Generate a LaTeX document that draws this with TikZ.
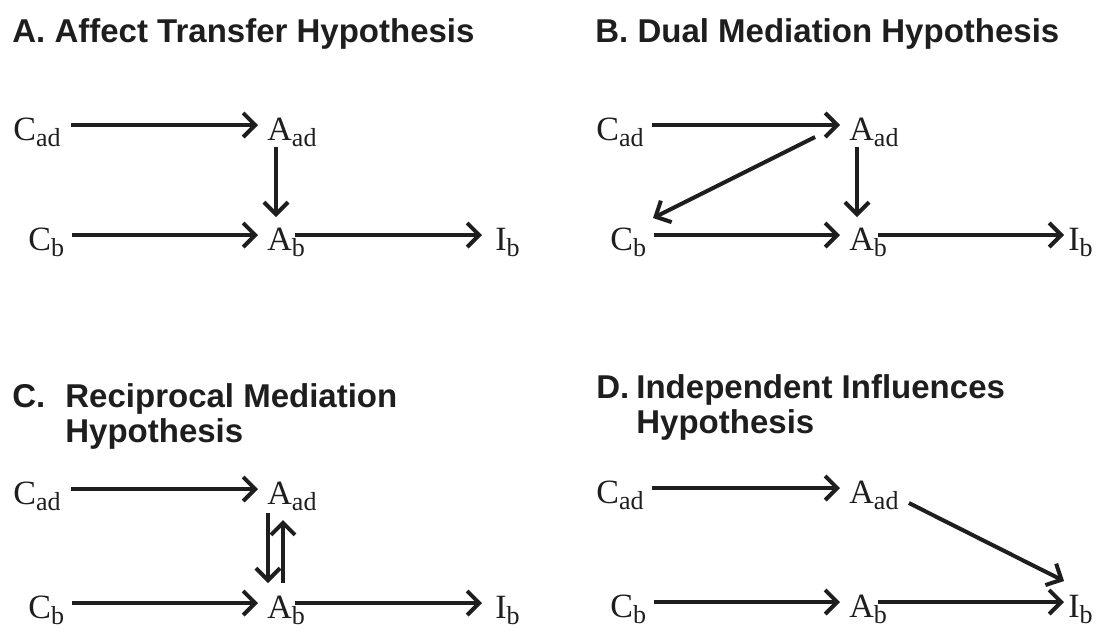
\documentclass[tikz,border=0pt]{standalone}
\usepackage{fontspec}
\setmainfont{Liberation Serif}
\newfontfamily\headfont{Liberation Sans}
\usetikzlibrary{arrows.meta}
\definecolor{ink}{RGB}{30,30,30}
\newcommand{\lsub}[1]{\raisebox{-3pt}{\fontsize{13}{13}\selectfont #1}}

\begin{document}
\begin{tikzpicture}[
    x=0.5pt, y=-0.5pt,
    lbl/.style={inner sep=0pt, anchor=base west, text=ink, font=\fontsize{17}{17}\selectfont},
    head/.style={inner sep=0pt, anchor=base west, text=ink, font=\headfont\bfseries\fontsize{16.5}{17.5}\selectfont},
    arr/.style={-{Straight Barb[length=6pt,width=12pt]}, line width=2pt, ink}
]
\useasboundingbox (0,0) rectangle (1102,629);

\node[head] (headA) at (12,42) {A. Affect Transfer Hypothesis};
\node[lbl] (cadA) at (13,140) {C\lsub{ad}};
\node[lbl] (aadA) at (267,140) {A\lsub{ad}};
\node[lbl] (cbA) at (28,250) {C\lsub{b}};
\node[lbl] (abA) at (267,250) {A\lsub{b}};
\node[lbl] (ibA) at (495,250) {I\lsub{b}};
\draw[arr] ([shift={(10,-15)}]cadA.base east) -- ([shift={(-9,-15)}]aadA.base west);
\draw[arr] ([shift={(9,7)}]aadA.base west) -- ([shift={(9,-33)}]abA.base west);
\draw[arr] ([shift={(8,-15)}]cbA.base east) -- ([shift={(-9,-15)}]abA.base west);
\draw[arr] ([shift={(28,-15)}]abA.base west) -- ([shift={(-13,-15)}]ibA.base west);

\node[head] (headB) at (595,42) {B. Dual Mediation Hypothesis};
\node[lbl] (cadB) at (596,140) {C\lsub{ad}};
\node[lbl] (aadB) at (849,140) {A\lsub{ad}};
\node[lbl] (cbB) at (610,250) {C\lsub{b}};
\node[lbl] (abB) at (849,250) {A\lsub{b}};
\node[lbl] (ibB) at (1068,250) {I\lsub{b}};
\draw[arr] ([shift={(8,-15)}]cadB.base east) -- ([shift={(-9,-15)}]aadB.base west);
\draw[arr] ([shift={(8,7)}]aadB.base west) -- ([shift={(8,-33)}]abB.base west);
\draw[arr] ([shift={(-34,-3)}]aadB.base west) -- ([shift={(43,-32)}]cbB.base west);
\draw[arr] ([shift={(8,-15)}]cbB.base east) -- ([shift={(-9,-15)}]abB.base west);
\draw[arr] ([shift={(29,-15)}]abB.base west) -- ([shift={(-4,-15)}]ibB.base west);

\node[head] (headC) at (12,407) {\begin{tabular}[t]{@{}p{26.5pt}@{}l@{}}C.&Reciprocal Mediation\\&Hypothesis\end{tabular}};
\node[lbl] (cadC) at (13,504) {C\lsub{ad}};
\node[lbl] (aadC) at (267,504) {A\lsub{ad}};
\node[lbl] (cbC) at (28,618) {C\lsub{b}};
\node[lbl] (abC) at (267,618) {A\lsub{b}};
\node[lbl] (ibC) at (495,618) {I\lsub{b}};
\draw[arr] ([shift={(10,-15)}]cadC.base east) -- ([shift={(-9,-15)}]aadC.base west);
\draw[arr] ([shift={(1,9)}]aadC.base west) -- ([shift={(1,-35)}]abC.base west);
\draw[arr] ([shift={(16,-35)}]abC.base west) -- ([shift={(16,16)}]aadC.base west);
\draw[arr] ([shift={(8,-15)}]cbC.base east) -- ([shift={(-9,-15)}]abC.base west);
\draw[arr] ([shift={(28,-15)}]abC.base west) -- ([shift={(-13,-15)}]ibC.base west);

\node[head] (headD) at (596,398) {\begin{tabular}[t]{@{}p{20pt}@{}l@{}}D.&Independent Influences\\&Hypothesis\end{tabular}};
\node[lbl] (cadD) at (596,503) {C\lsub{ad}};
\node[lbl] (aadD) at (849,503) {A\lsub{ad}};
\node[lbl] (cbD) at (610,617) {C\lsub{b}};
\node[lbl] (abD) at (849,617) {A\lsub{b}};
\node[lbl] (ibD) at (1068,617) {I\lsub{b}};
\draw[arr] ([shift={(8,-15)}]cadD.base east) -- ([shift={(-9,-15)}]aadD.base west);
\draw[arr] ([shift={(10,0)}]aadD.base east) -- ([shift={(-4,-36)}]ibD.base west);
\draw[arr] ([shift={(8,-15)}]cbD.base east) -- ([shift={(-9,-15)}]abD.base west);
\draw[arr] ([shift={(29,-15)}]abD.base west) -- ([shift={(-4,-15)}]ibD.base west);
\end{tikzpicture}
\end{document}
